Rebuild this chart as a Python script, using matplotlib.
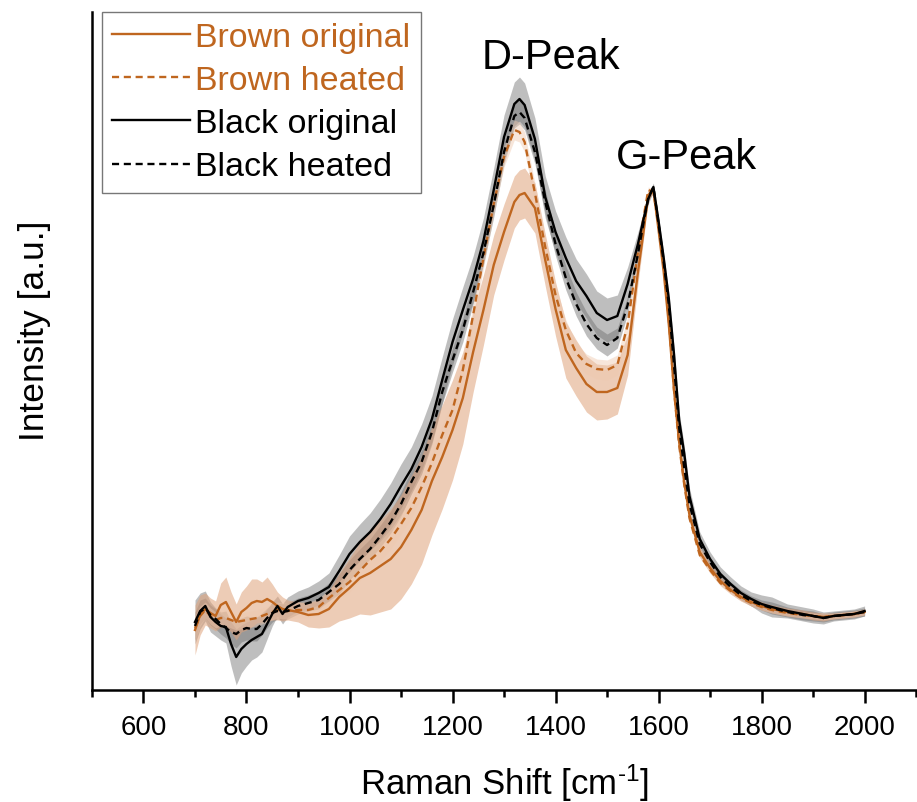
import matplotlib
matplotlib.use("Agg")
import matplotlib.pyplot as plt
import numpy as np

plt.rcParams['font.family'] = ['Liberation Sans', 'DejaVu Sans']
plt.rcParams['mathtext.fontset'] = 'custom'
plt.rcParams['mathtext.rm'] = 'Liberation Sans'
plt.rcParams['mathtext.it'] = 'Liberation Sans'

# Raman shift grid [cm-1]
shift = [700, 710, 720, 730, 740, 750, 760, 770, 780, 790, 800, 810, 820, 830, 840, 850, 860, 870, 880,
         900, 920, 940, 960, 980, 1000, 1020, 1040, 1060, 1080, 1100, 1120, 1140, 1160, 1180, 1200,
         1220, 1240, 1260, 1280, 1300, 1320, 1330, 1340,
         1360, 1380, 1400, 1420, 1440, 1460, 1480, 1500, 1520, 1540,
         1560, 1570, 1580, 1590, 1600, 1610, 1620, 1630, 1640, 1650, 1660,
         1680, 1700, 1720, 1740, 1760, 1780, 1800, 1820,
         1850, 1880, 1900, 1920, 1940, 1960, 1980, 2000]

brown_orig = [60, 75, 81, 77, 74, 85, 88, 78, 68, 78, 82, 87, 89, 88, 91, 88, 84, 81, 80,
              78, 75, 76, 81, 93, 102, 112, 117, 124, 131, 143, 160, 180, 209, 233, 260,
              292, 338, 380, 425, 458, 488, 495, 497,
              482, 430, 381, 340, 322, 306, 298, 298, 302, 335,
              418, 455, 495, 500, 460, 418, 365, 300, 248, 207, 175,
              138, 122, 109, 100, 93, 88, 84, 81,
              78, 76, 74, 73, 74, 75, 76, 78]
brown_orig_sd = [25, 20, 16, 15, 15, 22, 25, 20, 18, 20, 22, 24, 22, 20, 22, 18, 14, 12, 10,
                 10, 12, 14, 18, 24, 30, 36, 42, 46, 50, 52, 54, 54, 54, 52, 50,
                 46, 40, 35, 30, 28, 26, 25, 25,
                 25, 26, 27, 28, 28, 28, 28, 27, 26, 20,
                 12, 8, 5, 4, 4, 4, 5, 5, 5, 5, 5,
                 5, 5, 4, 4, 4, 4, 4, 4,
                 4, 4, 4, 4, 3, 3, 3, 3]

brown_heat = [62, 74, 80, 74, 70, 72, 72, 70, 68, 69, 70, 71, 72, 74, 76, 78, 80, 79, 79,
              80, 80, 83, 92, 100, 108, 119, 130, 139, 151, 166, 182, 203, 227, 255, 280,
              320, 375, 432, 486, 533, 560, 558, 548,
              497, 443, 395, 360, 337, 326, 321, 320, 325, 365,
              438, 470, 500, 498, 465, 425, 370, 300, 245, 205, 172,
              135, 120, 107, 99, 92, 87, 83, 80,
              77, 75, 74, 73, 74, 75, 76, 78]
brown_heat_sd = [12, 10, 8, 8, 8, 8, 8, 8, 8, 8, 8, 8, 8, 8, 8, 8, 8, 8, 8,
                 8, 8, 8, 9, 9, 10, 10, 10, 10, 10, 10, 10, 10, 10, 10, 10,
                 10, 10, 10, 10, 10, 10, 10, 10,
                 10, 10, 10, 10, 10, 10, 10, 10, 10, 8,
                 6, 4, 3, 3, 3, 3, 3, 3, 3, 3, 3,
                 3, 3, 3, 3, 3, 3, 3, 3,
                 3, 3, 3, 3, 3, 3, 3, 3]

black_orig = [68, 79, 84, 73, 68, 64, 63, 46, 33, 41, 46, 50, 53, 56, 66, 76, 84, 76, 83,
              89, 92, 97, 103, 119, 136, 148, 158, 171, 186, 204, 221, 243, 271, 310, 348,
              380, 411, 449, 500, 553, 586, 591, 585,
              551, 493, 458, 432, 409, 394, 377, 370, 374, 406,
              446, 469, 491, 503, 469, 432, 391, 336, 270, 236, 194,
              151, 131, 116, 106, 97, 91, 86, 83,
              79, 76, 74, 72, 74, 75, 76, 79]
black_orig_sd = [22, 18, 15, 15, 14, 14, 16, 22, 28, 24, 22, 20, 20, 18, 15, 12, 10, 10, 10,
                 10, 11, 12, 14, 16, 18, 18, 19, 20, 21, 22, 22, 23, 23, 23, 23,
                 23, 23, 23, 22, 22, 22, 22, 22,
                 21, 21, 21, 21, 22, 22, 22, 22, 21, 17,
                 12, 8, 5, 4, 4, 5, 6, 7, 8, 8, 8,
                 7, 7, 7, 7, 7, 7, 9, 10,
                 7, 7, 7, 6, 5, 5, 5, 5]

black_heat = [64, 78, 82, 75, 71, 66, 62, 58, 56, 60, 62, 61, 61, 66, 72, 77, 79, 78, 79,
              84, 87, 90, 98, 106, 120, 131, 141, 154, 168, 186, 208, 228, 258, 298, 330,
              360, 398, 437, 485, 538, 574, 578, 572,
              538, 488, 446, 412, 386, 366, 352, 345, 352, 385,
              436, 465, 492, 503, 466, 428, 385, 325, 262, 222, 186,
              146, 128, 113, 103, 95, 89, 85, 82,
              78, 75, 74, 72, 74, 75, 76, 78]
black_heat_sd = [14, 12, 10, 10, 10, 10, 10, 12, 14, 12, 12, 12, 12, 11, 10, 9, 8, 8, 8,
                 8, 8, 9, 9, 10, 10, 10, 10, 11, 11, 12, 12, 12, 12, 12, 12,
                 12, 12, 12, 12, 12, 12, 12, 12,
                 12, 12, 12, 12, 12, 12, 11, 11, 10, 9,
                 7, 5, 4, 3, 3, 3, 4, 4, 5, 5, 5,
                 5, 5, 5, 5, 5, 5, 5, 6,
                 5, 5, 5, 4, 4, 4, 4, 4]

brown = '#BF661F'
x = np.array(shift)

fig = plt.figure(figsize=(9.17, 8.03), dpi=100)
ax = fig.add_axes([0.1003, 0.1395, 0.8987, 0.8443])

# shaded +/- sd bands
for m, s, c, a in [(black_orig, black_orig_sd, '#8a8a8a', 0.55),
                   (black_heat, black_heat_sd, '#6e6e6e', 0.45),
                   (brown_orig, brown_orig_sd, '#DFA27A', 0.55),
                   (brown_heat, brown_heat_sd, '#EFC9AE', 0.45)]:
    m = np.array(m, float)
    s = np.array(s, float)
    ax.fill_between(x, m - s, m + s, color=c, alpha=a, lw=0)

dash = (0, (3, 2))
ax.plot(x, brown_orig, color=brown, lw=1.7, label='Brown original')
ax.plot(x, brown_heat, color=brown, lw=1.7, ls=dash, label='Brown heated')
ax.plot(x, black_orig, color='black', lw=1.7, label='Black original')
ax.plot(x, black_heat, color='black', lw=1.7, ls=dash, label='Black heated')

ax.set_xlim(500, 2100)
ax.set_ylim(0, 678)
ax.set_xticks(np.arange(600, 2001, 200))
ax.set_xticks(np.arange(500, 2101, 100), minor=True)
ax.set_yticks([])
for sp in ['top', 'right']:
    ax.spines[sp].set_visible(False)
ax.spines['left'].set_linewidth(1.8)
ax.spines['bottom'].set_linewidth(1.8)
ax.tick_params(axis='x', which='major', direction='out', length=9, width=1.8, labelsize=20, pad=8)
ax.tick_params(axis='x', which='minor', direction='out', length=5, width=1.8)

ax.set_xlabel(r'Raman Shift [cm$^{\text{-}1}$]', fontsize=25)
ax.xaxis.set_label_coords(0.5, -0.106)
ax.set_ylabel('Intensity [a.u.]', fontsize=25.5)
ax.yaxis.set_label_coords(-0.05, 0.531)

ax.text(0.557, 0.918, 'D-Peak', transform=ax.transAxes, ha='center', va='baseline', fontsize=30)
ax.text(0.721, 0.770, 'G-Peak', transform=ax.transAxes, ha='center', va='baseline', fontsize=30)

leg = ax.legend(loc='upper left', bbox_to_anchor=(0.012, 1.0), borderaxespad=0,
                fontsize=24.5, frameon=True, fancybox=False, handlelength=2.3,
                handletextpad=0.15, labelspacing=0.355, borderpad=0.3)
leg.get_frame().set_edgecolor('#555555')
leg.get_frame().set_linewidth(1.0)
for t, c in zip(leg.get_texts(), [brown, brown, 'black', 'black']):
    t.set_color(c)

fig.savefig('out.png', dpi=100)
